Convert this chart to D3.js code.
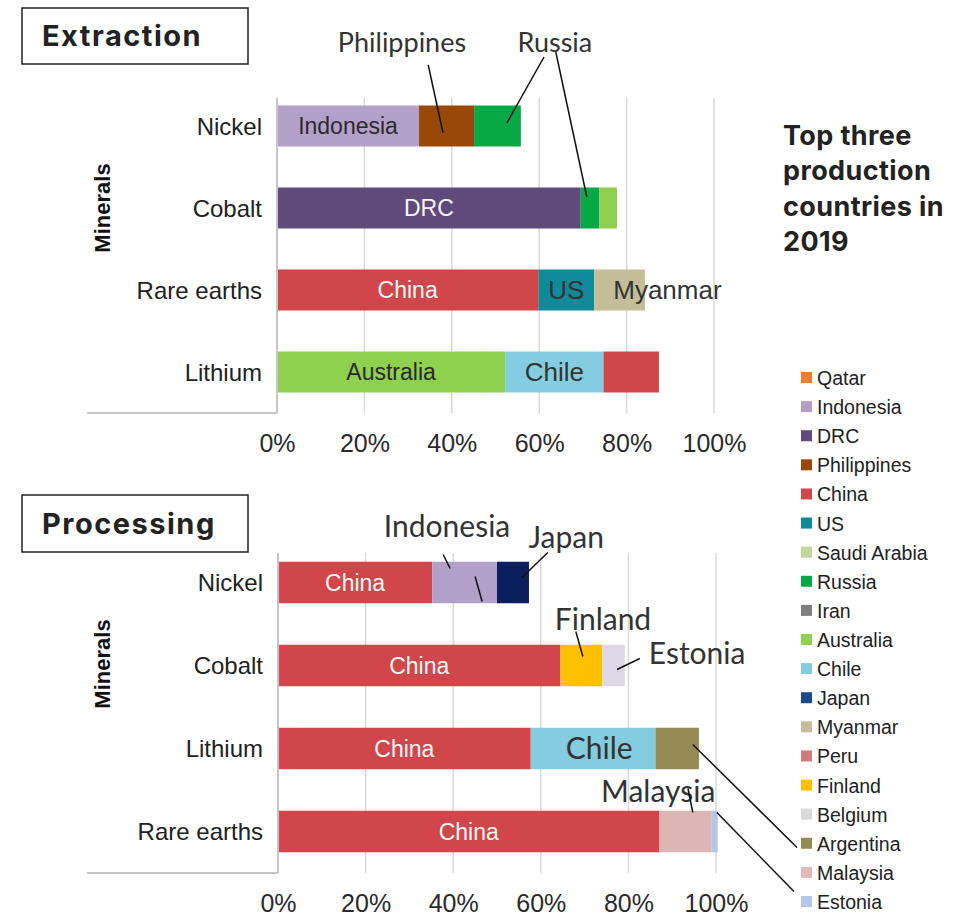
<!DOCTYPE html>
<html>
<head>
<meta charset="utf-8">
<script src="https://cdn.jsdelivr.net/npm/d3@7"></script>
<style>
body { margin: 0; background: #fff; }
</style>
</head>
<body>
<script>
// Shares of production (%) for the top three countries
const extractionMinerals = ['Nickel', 'Cobalt', 'Rare earths', 'Lithium']
const extractionCountries = [
	['Indonesia', 'Philippines', 'Russia'],
	['DRC', 'Russia', 'Australia'],
	['China', 'US', 'Myanmar'],
	['Australia', 'Chile', 'China'],
]
const extractionShares = [
	[32.5, 12.6, 10.7],
	[69.5, 4.3, 4.0],
	[59.8, 12.8, 11.6],
	[52.2, 22.5, 12.7],
]

const processingMinerals = ['Nickel', 'Cobalt', 'Lithium', 'Rare earths']
const processingCountries = [
	['China', 'Indonesia', 'Japan'],
	['China', 'Finland', 'Estonia'],
	['China', 'Chile', 'Argentina'],
	['China', 'Malaysia', 'Estonia'],
]
const processingShares = [
	[35.2, 14.8, 7.3],
	[64.5, 9.5, 5.2],
	[57.7, 28.5, 9.9],
	[87.1, 11.8, 1.5],
]

const legendCountries = ['Qatar', 'Indonesia', 'DRC', 'Philippines', 'China', 'US', 'Saudi Arabia', 'Russia', 'Iran',
	'Australia', 'Chile', 'Japan', 'Myanmar', 'Peru', 'Finland', 'Belgium', 'Argentina', 'Malaysia', 'Estonia']

const xTicks = [0, 20, 40, 60, 80, 100]

const width = 971
const height = 916

const colors = {
	Qatar: '#ed7d31', Indonesia: '#b3a0c9', DRC: '#5f4a7b', Philippines: '#984809', China: '#d1464a',
	US: '#10899b', 'Saudi Arabia': '#c3d69b', Russia: '#07a846', Iran: '#7f7f7f', Australia: '#90d04f',
	Chile: '#84cde0', Japan: '#1f4a8a', Myanmar: '#c4bd97', Peru: '#cf7a7c', Finland: '#ffc000',
	Belgium: '#d9d9d9', Argentina: '#948a54', Malaysia: '#e3b9b8', Estonia: '#b4c7e7',
}
// a few bars are drawn in a different shade from their legend swatch
const barColors = { 'Nickel|Japan': '#0b1f5e', 'Cobalt|Estonia': '#ded7e8', 'Rare earths|Malaysia': '#dcb5b5' }

const font = "'Liberation Sans', Arial, sans-serif"
const annoFont = "Lato, 'Open Sans', sans-serif"
const titleFont = "Inter, Lato, sans-serif"

const svg = d3.select('body').append('svg')
	.attr('width', width)
	.attr('height', height)
	.style('font-family', font)

svg.append('rect').attr('width', width).attr('height', height).attr('fill', '#fff')

const panels = [
	{
		title: 'Extraction', minerals: extractionMinerals, countries: extractionCountries, shares: extractionShares,
		xRange: [277, 714], yRange: [85, 413], gridTop: 98, box: [22, 8, 226, 56],
		barLabels: [
			{ m: 'Nickel', c: 'Indonesia', kind: 'dark' },
			{ m: 'Cobalt', c: 'DRC', kind: 'white' },
			{ m: 'Rare earths', c: 'China', kind: 'white' },
			{ m: 'Rare earths', c: 'US', kind: 'big' },
			{ m: 'Rare earths', c: 'Myanmar', kind: 'big', start: 19 },
			{ m: 'Lithium', c: 'Australia', kind: 'dark' },
			{ m: 'Lithium', c: 'Chile', kind: 'big' },
		],
		callouts: [
			{ text: 'Philippines', at: [28.6, 'Nickel', -74], size: 27 },
			{ text: 'Russia', at: [63.6, 'Nickel', -74], size: 27 },
		],
		leaders: [
			[[34.6, 'Nickel', -61], [38, 'Nickel', 7]],
			[[61.1, 'Nickel', -69], [52.6, 'Nickel', -3]],
			[[63.8, 'Nickel', -74], [70.9, 'Cobalt', -11]],
		],
	},
	{
		title: 'Processing', minerals: processingMinerals, countries: processingCountries, shares: processingShares,
		xRange: [278, 716], yRange: [541, 873], gridTop: 553, box: [22, 495, 226, 57],
		barLabels: [
			{ m: 'Nickel', c: 'China', kind: 'white' },
			{ m: 'Cobalt', c: 'China', kind: 'white' },
			{ m: 'Lithium', c: 'China', kind: 'white' },
			{ m: 'Lithium', c: 'Chile', kind: 'anno', dx: 6 },
			{ m: 'Rare earths', c: 'China', kind: 'white' },
		],
		callouts: [
			{ text: 'Indonesia', at: [38.6, 'Nickel', -46], size: 30 },
			{ text: 'Japan', at: [65.8, 'Nickel', -35], size: 30 },
			{ text: 'Finland', at: [74.2, 'Cobalt', -36], size: 30 },
			{ text: 'Estonia', at: [95.7, 'Cobalt', -2], size: 30 },
			{ text: 'Malaysia', at: [86.8, 'Rare earths', -30], size: 30 },
		],
		leaders: [
			[[37.7, 'Nickel', -28], [39.3, 'Nickel', -14]],
			[[45, 'Nickel', -6], [46.6, 'Nickel', 19]],
			[[61.6, 'Nickel', -30], [55.7, 'Nickel', -5]],
			[[68, 'Cobalt', -34], [69.6, 'Cobalt', -9]],
			[[82.6, 'Cobalt', -7], [77.4, 'Cobalt', 4]],
			[[93.6, 'Rare earths', -43], [94.7, 'Rare earths', -19]],
			[[94.7, 'Lithium', -4], [118.5, 'Rare earths', 16]],
			[[100.2, 'Rare earths', -19], [117.8, 'Rare earths', 60]],
		],
	},
]

const labelStyle = {
	white: { size: 23, fill: '#f6f6f6', family: font },
	dark: { size: 23, fill: '#2a2a2a', family: font },
	big: { size: 26, fill: '#333', family: font },
	anno: { size: 30, fill: '#333', family: annoFont },
}

panels.forEach(drawPanel)

function drawPanel(p) {
	const g = svg.append('g')
	const x = d3.scaleLinear().domain([0, 100]).range(p.xRange)
	const y = d3.scaleBand().domain(p.minerals).range(p.yRange).paddingInner(0.5).paddingOuter(0.25)
	const yc = m => y(m) + y.bandwidth() / 2
	const bottom = p.yRange[1]

	// title box
	g.append('rect')
		.attr('x', p.box[0]).attr('y', p.box[1]).attr('width', p.box[2]).attr('height', p.box[3])
		.attr('fill', 'none').attr('stroke', '#222').attr('stroke-width', 1.5)
	g.append('text')
		.attr('x', p.box[0] + 20).attr('y', p.box[1] + p.box[3] / 2 + 10)
		.style('font-family', titleFont).style('font-weight', 700).style('font-size', '29px')
		.style('letter-spacing', '1.5px')
		.attr('fill', '#222').text(p.title)

	// gridlines
	g.selectAll('.grid').data(xTicks.slice(1)).enter().append('line')
		.attr('x1', d => x(d)).attr('x2', d => x(d))
		.attr('y1', p.gridTop).attr('y2', bottom)
		.attr('stroke', '#d9d9d9').attr('stroke-width', 1.5)

	// stacked segments
	const segs = []
	p.minerals.forEach((m, i) => {
		let acc = 0
		p.countries[i].forEach((c, j) => {
			const v = p.shares[i][j]
			segs.push({ m, c, x0: acc, x1: acc + v })
			acc += v
		})
	})
	g.selectAll('.seg').data(segs).enter().append('rect')
		.attr('x', d => x(d.x0))
		.attr('y', d => y(d.m))
		.attr('width', d => x(d.x1) - x(d.x0))
		.attr('height', y.bandwidth())
		.attr('fill', d => barColors[d.m + '|' + d.c] || colors[d.c])

	// axis lines
	g.append('line').attr('x1', x(0)).attr('x2', x(0)).attr('y1', p.gridTop).attr('y2', bottom)
		.attr('stroke', '#c6c6c6').attr('stroke-width', 2)
	g.append('line').attr('x1', 87).attr('x2', x(0)).attr('y1', bottom).attr('y2', bottom)
		.attr('stroke', '#c6c6c6').attr('stroke-width', 2)

	// category axis
	const yAxis = g.append('g').attr('transform', `translate(${x(0)},0)`)
		.call(d3.axisLeft(y).tickSize(0).tickPadding(15))
	yAxis.select('.domain').remove()
	yAxis.selectAll('text').style('font-family', font).style('font-size', '24px').attr('fill', '#222').attr('dy', '0.36em')

	// value axis
	const xAxis = g.append('g').attr('transform', `translate(0,${bottom})`)
		.call(d3.axisBottom(x).tickValues(xTicks).tickFormat(d => d + '%').tickSize(0).tickPadding(21))
	xAxis.select('.domain').remove()
	xAxis.selectAll('text').style('font-family', font).style('font-size', '25px').attr('fill', '#2a2a2a')

	// axis title
	g.append('text')
		.attr('transform', `translate(${110},${p.yRange[0] + 123}) rotate(-90)`)
		.attr('text-anchor', 'middle')
		.style('font-family', font).style('font-weight', 700).style('font-size', '22px')
		.attr('fill', '#111').text('Minerals')

	// labels inside the bars
	p.barLabels.forEach(l => {
		const s = segs.find(d => d.m === l.m && d.c === l.c)
		const st = labelStyle[l.kind]
		const t = g.append('text')
			.attr('y', yc(l.m))
			.attr('dy', '0.36em')
			.style('font-family', st.family).style('font-size', st.size + 'px')
			.attr('fill', st.fill).text(l.c)
		if (l.start !== undefined) {
			t.attr('x', x(s.x0) + l.start).attr('text-anchor', 'start')
		} else {
			t.attr('x', (x(s.x0) + x(s.x1)) / 2 + (l.dx || 0)).attr('text-anchor', 'middle')
		}
	})

	// call-out labels and leader lines
	const pt = a => [x(a[0]), yc(a[1]) + a[2]]
	g.selectAll('.callout').data(p.callouts).enter().append('text')
		.attr('x', d => pt(d.at)[0]).attr('y', d => pt(d.at)[1])
		.attr('text-anchor', 'middle')
		.style('font-family', annoFont).style('font-size', d => d.size + 'px')
		.attr('fill', '#333').text(d => d.text)
	g.selectAll('.leader').data(p.leaders).enter().append('line')
		.attr('x1', d => pt(d[0])[0]).attr('y1', d => pt(d[0])[1])
		.attr('x2', d => pt(d[1])[0]).attr('y2', d => pt(d[1])[1])
		.attr('stroke', '#111').attr('stroke-width', 1.5)
}

// heading on the right
const heading = ['Top three', 'production', 'countries in', '2019']
svg.append('g').selectAll('text').data(heading).enter().append('text')
	.attr('x', 783).attr('y', (d, i) => 145 + i * 35.3)
	.style('font-family', titleFont).style('font-weight', 700).style('font-size', '27px')
	.style('letter-spacing', '0.4px')
	.attr('fill', '#222').text(d => d)

// legend
const ly = d3.scaleLinear().domain([0, legendCountries.length - 1]).range([378, 902])
const legend = svg.append('g').selectAll('g').data(legendCountries).enter().append('g')
	.attr('transform', (d, i) => `translate(801,${ly(i)})`)
legend.append('rect').attr('x', 0).attr('y', -6).attr('width', 11).attr('height', 11).attr('fill', d => colors[d])
legend.append('text').attr('x', 16).attr('dy', '0.36em')
	.style('font-family', font).style('font-size', '19.5px').attr('fill', '#222').text(d => d)
</script>
</body>
</html>
